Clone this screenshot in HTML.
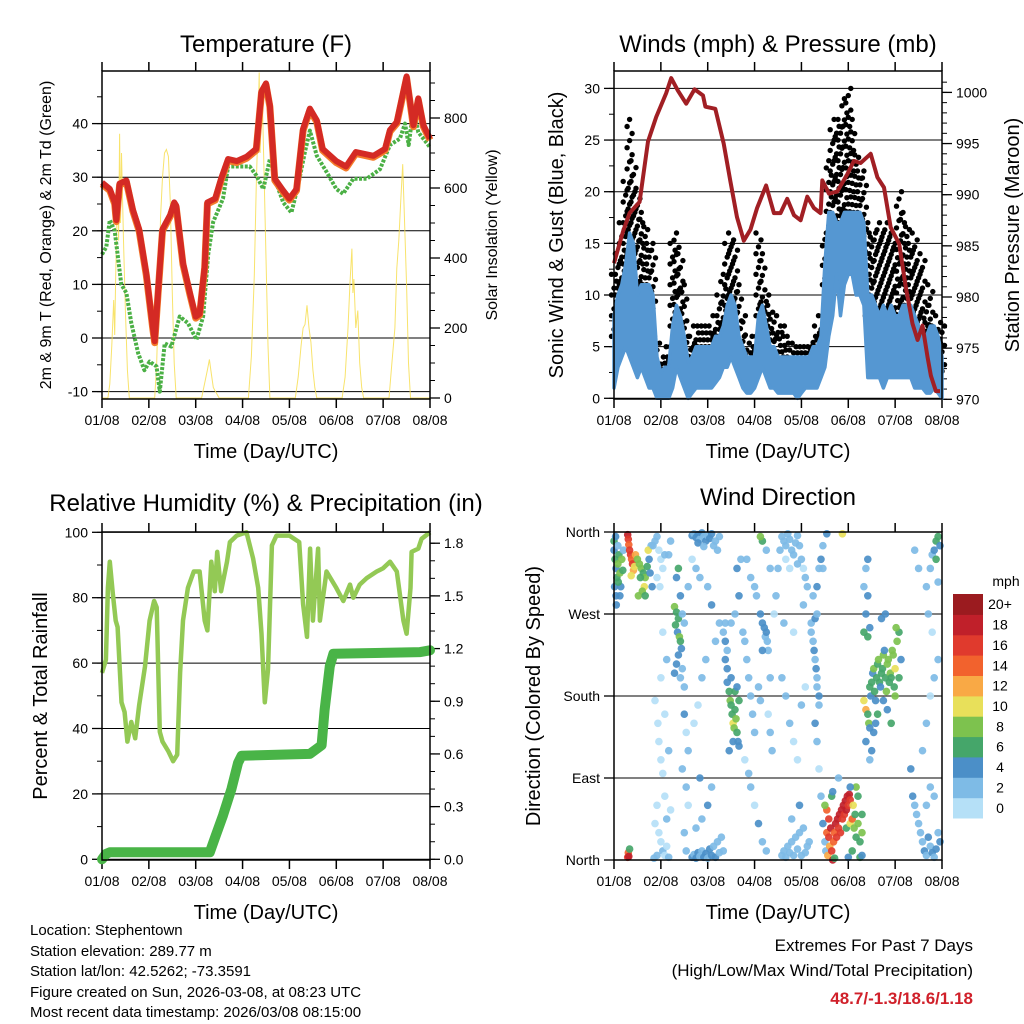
<!DOCTYPE html>
<html><head><meta charset="utf-8"><title>Stephentown weather</title>
<style>
html,body{margin:0;padding:0;background:#fff;}
svg{display:block;font-family:"Liberation Sans",Arial,sans-serif;}
</style></head>
<body>
<svg id="fig" width="1024" height="1024" viewBox="0 0 1024 1024" xmlns="http://www.w3.org/2000/svg"></svg>
<script>
// ---------------- DATA ----------------
const dayLabels = ["01/08","02/08","03/08","04/08","05/08","06/08","07/08","08/08"];
// Temperature (F), red 2m T
const tempHours = [0,4,6.5,7.3,9,12.5,15.8,19,22.7,26,27,28.7,31,35,37,38,41.5,45,48,50,52.6,54,58,61,64.6,69,74,79,81.7,84,86,88.5,92.8,96,99.6,103,106.5,110,113,120,125,130,139,145,147.5,151,156,159.5,162,164.6,168];
const tempValues = [29,27.8,25.3,22,28.8,29.4,24,20.3,12,2,-0.6,8.4,20.3,23,25.3,24.7,14,8.4,4,4.5,13.4,25.3,26,29.7,33.4,33,33.8,35.3,46,47.5,43.4,29.7,27.5,26,27.8,39,42.8,40.6,35.3,33,32,34.7,34,35.3,38.8,40.3,48.8,39.7,44.7,39.7,37.2];
// Dew point (F), green 2m Td
const tdHours = [0,2.2,4,6.5,8.2,9.9,12.5,15,18.5,21.7,24.4,27.9,29.6,32.1,35.5,39.8,44,48.4,51.8,54.4,56.9,62,64.6,70.6,75.7,79.1,82.6,86,88.5,92.8,97,100.4,103.9,106.5,110,115,120,123.5,128.7,135.6,142.4,147.5,152.6,155.2,157.1,159.5,162,168];
const tdValues = [15.6,17,22,20,15,10,8.4,2.8,-2.8,-6,-4.4,-5.3,-10,-1,-1.6,4,2.8,-0.3,4,15.6,21.6,26,32,32,32,30.3,27.8,33.4,29.7,25.3,23.4,28.4,34.7,38.7,34,31,27.8,26.9,29.7,29.7,31.5,36,37.2,40,36,42.8,38.4,35.6];
// Solar insolation (W/m2)
const solarHours = [0,3,4,5,6,6.5,7,8,8.5,9,9.5,10,11,12,13,14,27,28,29,30,31,32,33,34,35,36,37,38,51,52.5,54,55,56,57,58,59,60,75,76.5,78,79,80,80.5,81,82,83,84,85,86,99,100.5,102,103,104,105,106,107,108,109,110,123,124.5,126,127,128,128.5,129,130,131,132,133,134,147,148.5,150,151,152,153,154,155,156,157,158,168];
const solarValues = [0,0,40,150,280,180,350,600,450,755,500,700,450,250,80,0,0,100,300,520,630,700,710,690,560,300,100,0,0,40,80,110,70,30,20,10,0,0,120,350,600,800,930,700,880,650,400,150,0,0,60,150,200,210,265,200,160,80,30,0,0,60,200,330,427,300,340,200,250,100,30,0,0,100,200,370,450,560,668,500,320,100,0,0];
// Winds (mph), every 2 hours
const windHours = [0,2,4,6,8,10,12,14,16,18,20,22,24,26,28,30,32,34,36,38,40,42,44,46,48,50,52,54,56,58,60,62,64,66,68,70,72,74,76,78,80,82,84,86,88,90,92,94,96,98,100,102,104,106,108,110,112,114,116,118,120,122,124,126,128,130,132,134,136,138,140,142,144,146,148,150,152,154,156,158,160,162,164,166,168];
const windLow = [1,3,4,5,4,3,2,3,2,1,1,0,0,0,0,1,3,2,1,0,0.5,1,1,1,1,1,1.5,2,3,3,4,3,2,1,0.5,0.5,1,2,3,2,1,1,0.5,0.5,0.5,0.5,0.5,0,0.5,1,1,1,1,2,3,6,8,12,8,11,12,12,10,10,9,2,2,2,2,1,2,2,2,2,2,2,2,1,1,1,0.5,0.5,1,0.5,0];
const windHigh = [8,10,11,13,16,15,10,11,11,11,10,4,2.5,3,3,7,9,8,6,3.5,4,5,5,5,5,5,6,6,7,9,10,9,6,5,4,4,4,8,9,7,5,5,4,4,4,4,4,4,4,4,4,5,5,6,13,18,18,17,17,18,18,18,18,18,17,10,10,9,8,9,8,9,8,8,9,9,9,8,7,6,6,7,7,6,4];
const gustMax = [12,14,17,21,27,23,20,18,17,15,15,6,4,4,5,15,16,14,11,6,6,7,7,7,7,7,8,10,12,15,16,15,11,8,6,5,6,16,14,10,9,8,7,7,6,6,5,5,5,5,5,6,7,8,16,23,26,27,27,29,30,27,24,22,22,17,16,16,17,16,17,16,15,20,18,17,15,16,13,14,9,11,7,8,7];
// Station pressure (mb)
const presHours = [0,4.6,8,13.1,17.4,21.6,26.7,29.3,32.7,37,41.3,45.6,46.8,51.9,56.2,59.6,63,66.5,69.9,73.3,77.9,81.9,85.3,88.7,92.2,95.6,99,102.4,105.8,106.7,110.1,114.3,119.5,122.9,126.3,131.5,134.9,138.3,141.7,146.1,149.5,152.9,155.5,158,160.6,162.3,164.9,167];
const presValues = [983.3,986.4,988.2,989.3,995.2,997.6,999.9,1001.4,1000.2,998.9,1000.3,999.7,998.6,998.4,995,991.3,987.8,985.5,986.6,988.7,990.9,988.2,988.2,989.6,988,987.5,989.8,988.7,988.2,991.4,990.1,990.3,992,993.3,993.1,994,991.7,990.7,986.8,985.2,980.9,977.4,975.8,977.2,974.1,972.3,970.8,970.8];
// Relative humidity (%)
const rhHours = [0,2,3,4,5.6,7,8,10,11.6,13,15,17,19,22,24.4,26.7,28,29.6,31,34,36.4,38.5,40,41.5,44,47,50,52.6,54,56,57.8,59,61,64,65.5,69,74,77.4,80,81.7,83.4,85,87,89.4,96,101,103,105,106.6,108,110.7,111.6,115,120,123.6,127,128.7,132,135.6,140.7,144,147.5,151,154.4,156,158,158.6,162,163.7,168];
const rhValues = [57,61,83,91,81,73,71,48,45,36,42,37,47,59,73,79,77,39,36,33,30,32,57,73,83,88,88,73,70,91,82,94,82,91,97,99,100,92,83,69,48,58,96,99,99,97,78,68,95,73,95,73,88,83,79,84,80,84,86,88,89,91,88,73,69,83,94,95,98,100];
// Cumulative precipitation (in)
const precipHours = [0,2,4,55.2,57.8,62,66.3,69.7,71.5,106.5,112.5,114,116.7,118.5,163,168];
const precipValues = [0,0.03,0.04,0.04,0.12,0.25,0.4,0.55,0.59,0.6,0.65,0.85,1.1,1.17,1.18,1.19];
// Wind direction scatter: hour, direction (deg), speed (mph)
const dirHours = [0,0.5,1,0.3,1.5,2,2.5,3,3.5,1,0,2,4,4.5,3,1.2,2.2,0.8,4.8,
7,7.3,7.6,8,8.5,9,9.5,10,10.5,8.8,11,12,13,14,15,16,17,18,19,13.5,15.5,14.5,12.5,16,17.5,19.5,18.5,7,7.3,7.6,8,
20,21,22,23,24,25,26,22,23.5,25,24,21,22.5,23,24,25,26,22,21,23,24,25,26,28,22,27,29,28,27,26,28,29,20.5,27,
31,32,33,31.5,32.5,33.5,34,34.5,33,32,31,34,35,36,35,36,33,32,34,36,37,38,35,37,38,36,37,38,
40,41,42,43,44,45,46,47,48,49,50,51,52,53,54,43,46,40,42,44,48,40,41,42,43,44,45,46,47,48,49,50,51,52,53,54,55,56,42,45,48,50,44,41,43,45,47,52,54,50,
56,57,57,58,58,59,59.5,60,60.5,61,61.5,62,62.5,63,63.5,64,60,62,61,59,64,63,58,57,60,62,64,63,65,
66,67,68,69,70,71,72,67,69,70,72,74,76,78,75,76,77,77.5,78,78.5,79,76,74,75,79,80,81,80,82,83,84,85,80,78,76,75,72,70,73,68,
86,87,88,89,90,91,92,93,94,95,96,97,98,99,90,94,88,86,87,88,89,90,91,92,93,94,95,96,97,98,99,100,91,95,86,88,90,92,94,96,98,87,92,97,
101,102,102.5,103,103.5,104,104,105,105,101,103,104,102,104,105,106,107,107,103,104,105,106,107,
108,108.5,109,109.5,110,110.5,111,111.5,112,112.5,113,113.5,114,114.5,115,115.5,116,116.5,117,117.5,118,118.5,119,119.5,120,120.5,121,110,109,108,111.5,112,113,119,121,122,122.5,123,123.5,124,125,126,127,127,125,124,122,120,126,127,115,121,109,117,
128,129,130,130.5,131,131.5,132,132.5,133,133.5,134,134.5,135,135.5,136,136.5,137,137.5,138,138.5,139,139.5,140,140.5,141,141.5,142,142.5,143,143.5,144,144,145,146,144.5,130,131,129,130,128,129,130,131,132,129,133,135,137,139,134,131,128,138,140,142,146,147,
152,153,154,155,156,157,158,159,160,161,162,163,164,165,166,167,160,162,164,158,160,162,164,166,163,161,160,162,163,164,165,166,167,165,166,156,154];
const dirDegrees = [340,330,320,300,310,325,335,315,300,290,350,345,330,318,290,280,305,355,340,
357,352,346,340,335,330,325,318,322,312,335,330,325,320,315,310,322,330,345,310,300,295,290,290,340,300,315,3,8,4,12,
345,350,355,340,330,320,335,310,300,250,200,175,150,130,110,95,70,60,40,30,20,10,5,3,5,45,55,120,220,160,335,350,2,15,
278,272,265,258,250,245,240,232,225,215,205,200,270,260,210,190,320,310,290,160,140,120,100,80,60,30,10,300,
356,358,354,357,352,359,355,350,356,353,358,345,350,340,355,348,344,330,320,310,300,3,6,2,8,4,10,3,7,2,12,5,15,3,20,8,25,10,35,45,60,80,90,150,170,200,220,240,260,280,
250,240,220,210,195,185,175,170,160,150,145,165,155,140,130,125,200,185,130,120,175,190,230,260,260,270,290,320,330,
250,240,220,200,180,160,140,110,95,80,60,40,20,10,270,260,255,245,250,240,230,230,190,175,160,140,120,200,270,290,320,340,320,340,350,355,300,310,290,330,
355,350,345,358,352,340,335,348,356,345,330,320,310,300,320,325,330,5,10,3,15,8,20,5,25,12,30,5,35,8,15,20,45,60,200,180,150,130,110,170,190,260,250,280,
250,240,230,220,210,200,190,180,170,260,265,270,290,300,320,330,320,345,150,130,100,70,40,
20,10,30,5,25,15,35,10,0,20,30,40,25,45,35,50,30,55,45,60,50,65,55,70,60,72,66,45,55,60,70,75,2,35,40,45,60,35,50,25,40,20,30,50,70,80,10,3,3,5,90,80,358,358,
175,165,160,150,190,180,195,205,210,185,175,200,215,220,195,190,205,210,225,230,200,185,215,220,195,205,200,230,225,190,180,210,240,250,255,245,255,270,290,300,320,330,110,120,130,140,160,265,270,150,145,250,175,165,150,200,220,
100,70,60,50,40,30,20,10,5,25,15,8,3,12,30,20,60,80,70,120,150,180,200,220,250,270,300,320,335,340,350,355,345,330,305,320,340];
const dirSpeeds = [5,6,4,4,6,8,7,8,4,4,6,3,8,6,5,4,7,4,3,
18,16,14,16,17,14,16,12,10,11,12,8,9,8,7,9,6,4,3,6,10,8,9,6,10,4,4,16,14,18,7,
2,3,2,1,0,1,2,0,1,0,1,0,1,1,0,1,1,0,1,0,1,2,0,2,2,3,1,3,2,1,3,2,3,1,
8,6,7,6,5,8,6,4,5,4,4,3,3,2,2,3,6,4,4,4,1,2,3,2,1,2,3,3,
4,3,4,5,3,4,3,4,3,4,4,3,2,3,2,4,3,1,2,3,2,4,3,4,4,3,3,4,4,3,4,4,3,4,2,3,3,2,2,3,4,3,4,1,1,3,2,3,2,4,
3,4,5,4,4,6,8,6,7,10,8,6,8,7,4,5,4,6,4,4,6,5,3,3,2,3,4,4,3,
3,2,3,3,2,3,2,1,2,3,1,4,3,3,4,4,4,3,4,3,2,4,3,2,1,3,2,2,1,2,3,2,2,3,6,8,2,3,3,2,
2,3,2,3,2,3,2,3,2,2,3,1,3,2,1,3,1,3,2,3,2,3,3,2,2,3,2,3,2,3,2,3,2,4,2,3,3,1,1,2,1,2,1,3,2,2,
4,3,4,3,3,4,3,3,4,3,3,4,3,4,3,3,4,3,1,2,4,2,3,
14,12,16,13,18,17,18,15,14,18,17,18,16,18,17,18,16,18,17,19,18,18,16,18,17,16,14,8,6,4,7,6,10,14,10,8,6,7,8,6,8,6,6,8,6,4,6,4,2,4,4,10,10,13,
6,8,6,4,6,5,8,6,4,7,6,8,6,5,7,6,8,4,6,8,9,8,6,8,7,9,8,6,8,10,8,6,8,6,4,4,4,3,3,4,3,4,4,4,6,4,4,4,4,6,5,4,6,6,5,4,4,
3,2,3,2,3,4,3,4,3,4,3,4,3,4,3,2,2,3,2,1,2,3,1,3,2,3,3,4,6,6,4,7,3,2,2,3,2];
const speedBins = ["0","2","4","6","8","10","12","14","16","18","20+"];
const speedColors = ["#b5e0f7","#7ebbe6","#4b8fc8","#45a66a","#7dc24e","#e8e05a","#f9a945","#f2622d","#e03a2d","#c0202a","#9b1b1f"];

// ---------------- HELPERS ----------------
const NS="http://www.w3.org/2000/svg";
const svg=document.getElementById('fig');
function mk(tag,attrs,parent){const e=document.createElementNS(NS,tag);for(const k in attrs)e.setAttribute(k,attrs[k]);(parent||svg).appendChild(e);return e;}
function txt(s,x,y,size,anchor,parent,extra){const e=mk('text',Object.assign({x:x,y:y,'font-size':size,'text-anchor':anchor||'middle',fill:'#000'},extra||{}),parent);e.textContent=s;return e;}
function pts(xs,ys,fx,fy){return xs.map((h,i)=>fx(h).toFixed(1)+','+fy(ys[i]).toFixed(1)).join(' ');}

function frame(g,L,T,R,B){
  const xs=h=>L+h*(R-L)/168;
  for(let i=0;i<8;i++){
    const x=xs(i*24);
    const t1=mk('line',{x1:x,y1:B,x2:x,y2:B+9,stroke:'#000','stroke-width':1.5},g);
    
    
    const t2=mk('line',{x1:x,y1:T,x2:x,y2:T-9,stroke:'#000','stroke-width':1.5},g);
    
    
    const lb=txt(dayLabels[i],x,B+26,14,'middle',g);
    
    
  }
  return xs;
}
function border(g,L,T,R,B){
  const r=mk('rect',{x:L,y:T,width:R-L,height:B-T,fill:'none',stroke:'#000','stroke-width':1.5},g);
  
  
}
function yTicks(g,side,x,vals,fy,labels,minorVals,grid,L,R){
  const dir=side==='left'?-1:1;
  minorVals.forEach(v=>{const y=fy(v);const t=mk('line',{x1:x,y1:y,x2:x+dir*5,y2:y,stroke:'#000','stroke-width':1},g);
    
    });
  vals.forEach((v,i)=>{const y=fy(v);
    const t=mk('line',{x1:x,y1:y,x2:x+dir*10,y2:y,stroke:'#000','stroke-width':1.3},g);
    
    
    if(grid){const gl=mk('line',{x1:L,y1:y,x2:R,y2:y,stroke:'#000','stroke-width':1},g);
      
      }
    const lb=txt(labels[i],x+dir*14,y+5,14,side==='left'?'end':'start',g);
    
    });
}
function range(a,b,s){const r=[];for(let v=a;v<=b+1e-9;v+=s)r.push(+v.toFixed(3));return r;}

// ---------------- PANEL 1: TEMPERATURE ----------------
(function(){
  const L=102,T=71,R=430,B=399;
  const g=mk('g',{});
  
  
  const xs=frame(g,L,T,R,B);
  const fy=v=>338-v*5.36, fs=v=>398-v*0.35;
  yTicks(g,'left',L,range(-10,40,10),fy,range(-10,40,10).map(String),range(-10,45,5),true,L,R);
  yTicks(g,'right',R,range(0,800,200),fs,range(0,800,200).map(String),range(0,900,50),false);
  const sol=mk('polyline',{points:pts(solarHours,solarValues,xs,fs),fill:'none',stroke:'#f7de52','stroke-width':1,opacity:0.85},g);
  
  
  const td=mk('polyline',{points:pts(tdHours,tdValues,xs,fy),fill:'none',stroke:'#4bb045','stroke-width':4,'stroke-dasharray':'3 1.5','stroke-linejoin':'round'},g);
  
  
  const t9=mk('polyline',{points:pts(tempHours,tempValues,xs,v=>fy(v)+1.5),fill:'none',stroke:'#f47b2a','stroke-width':7,'stroke-linejoin':'round'},g);
  
  
  const t2=mk('polyline',{points:pts(tempHours,tempValues,xs,fy),fill:'none',stroke:'#d42a24','stroke-width':6,'stroke-linejoin':'round'},g);
  
  
  border(g,L,T,R,B);
  const ti=txt('Temperature (F)',266,52,24,'middle',g);
  
  
  const xl=txt('Time (Day/UTC)',266,458,20,'middle',g);
  
  
  const yl=txt('2m & 9m T (Red, Orange) & 2m Td (Green)',0,0,16,'middle',g,{transform:'translate(51,235) rotate(-90)'});
  
  
  const yr=txt('Solar Insolation (Yellow)',0,0,16,'middle',g,{transform:'translate(497,235) rotate(-90)'});
  
  
})();

// ---------------- PANEL 2: WINDS ----------------
(function(){
  const L=614,T=71,R=942,B=399;
  const g=mk('g',{});
  
  
  const xs=frame(g,L,T,R,B);
  const fy=v=>398.3-v*10.33, fp=p=>399.3-(p-970)*10.23;
  yTicks(g,'left',L,range(0,30,5),fy,range(0,30,5).map(String),range(0,31,2.5),true,L,R);
  yTicks(g,'right',R,range(970,1000,5),fp,range(970,1000,5).map(String),range(970,1001,1),false);
  // gust dots
  windHours.forEach((h,i)=>{
    const lo=windHigh[i]-2, hi=gustMax[i];
    const n=Math.max(1,Math.ceil((hi-lo)/0.7));
    for(let k=0;k<=n;k++){
      const v=lo+(hi-lo)*k/n;
      const c=mk('circle',{cx:(xs(h)+((k%3)-1)*2.5).toFixed(1),cy:fy(v).toFixed(1),r:2.7,fill:'#000'},g);
      
      
    }
  });
  const band=windHours.map((h,i)=>xs(h).toFixed(1)+','+fy(windHigh[i]).toFixed(1)).join(' ')+' '+windHours.slice().reverse().map((h,j)=>{const i=windHours.length-1-j;return xs(h).toFixed(1)+','+fy(windLow[i]).toFixed(1);}).join(' ');
  const w=mk('polygon',{points:band,fill:'#5597d2',stroke:'#5597d2','stroke-width':3.5,'stroke-linejoin':'round'},g);
  
  
  const p=mk('polyline',{points:pts(presHours,presValues,xs,fp),fill:'none',stroke:'#a11f24','stroke-width':4,'stroke-linejoin':'round'},g);
  
  
  border(g,L,T,R,B);
  const ti=txt('Winds (mph) & Pressure (mb)',778,52,24,'middle',g);
  
  
  const xl=txt('Time (Day/UTC)',778,458,20,'middle',g);
  
  
  const yl=txt('Sonic Wind & Gust (Blue, Black)',0,0,20,'middle',g,{transform:'translate(563,235) rotate(-90)'});
  
  
  const yr=txt('Station Pressure (Maroon)',0,0,20,'middle',g,{transform:'translate(1019,235) rotate(-90)'});
  
  
})();

// ---------------- PANEL 3: RH & PRECIP ----------------
(function(){
  const L=102,T=532,R=430,B=860;
  const g=mk('g',{});
  
  
  const xs=frame(g,L,T,R,B);
  const fy=v=>859.3-v*3.27, fp=v=>859.3-v*175.6;
  yTicks(g,'left',L,range(0,100,20),fy,range(0,100,20).map(String),range(0,100,10),true,L,R);
  yTicks(g,'right',R,range(0,1.8,0.3),fp,range(0,1.8,0.3).map(v=>v.toFixed(1)),range(0,1.8,0.1),false);
  const rh=mk('polyline',{points:pts(rhHours,rhValues,xs,fy),fill:'none',stroke:'#93c955','stroke-width':4.5,'stroke-linejoin':'round'},g);
  
  
  const pr=mk('polyline',{points:pts(precipHours,precipValues,xs,fp),fill:'none',stroke:'#49b447','stroke-width':10,'stroke-linejoin':'round','stroke-linecap':'round'},g);
  
  
  border(g,L,T,R,B);
  const ti=txt('Relative Humidity (%) & Precipitation (in)',266,511,24,'middle',g);
  
  
  const xl=txt('Time (Day/UTC)',266,919,20,'middle',g);
  
  
  const yl=txt('Percent & Total Rainfall',0,0,20,'middle',g,{transform:'translate(47,696) rotate(-90)'});
  
  
})();

// ---------------- PANEL 4: WIND DIRECTION ----------------
(function(){
  const L=614,T=532,R=942,B=860;
  const g=mk('g',{});
  
  
  const xs=frame(g,L,T,R,B);
  const fy=d=>860-d*328/360;
  yTicks(g,'left',L,[0,90,180,270,360],fy,['North','East','South','West','North'],[],true,L,R);
  const binOf=s=>Math.min(10,Math.max(0,Math.floor(s/2)));
  dirHours.forEach((h,i)=>{
    const c=mk('circle',{cx:xs(h).toFixed(1),cy:fy(dirDegrees[i]).toFixed(1),r:3.8,fill:speedColors[binOf(dirSpeeds[i])],opacity:0.92},g);
    
    
  });
  border(g,L,T,R,B);
  const ti=txt('Wind Direction',778,505,24,'middle',g);
  
  
  const xl=txt('Time (Day/UTC)',778,919,20,'middle',g);
  
  
  const yl=txt('Direction (Colored By Speed)',0,0,20,'middle',g,{transform:'translate(540,696) rotate(-90)'});
  
  
  // legend
  const lg=mk('g',{},g);
  
  
  const lt=txt('mph',1006,586,14,'middle',lg);
  
  
  const bh=224/11;
  speedBins.forEach((lab,i)=>{
    const j=10-i; const y=594+j*bh;
    const r=mk('rect',{x:953,y:y.toFixed(1),width:30,height:(bh+0.5).toFixed(1),fill:speedColors[i]},lg);
    
    
    const t=txt(lab,1000,y+bh/2+5,14,'middle',lg);
    
    
  });
})();

// ---------------- FOOTER TEXT ----------------
(function(){
  const info=["Location: Stephentown","Station elevation: 289.77 m","Station lat/lon: 42.5262; -73.3591","Figure created on Sun, 2026-03-08, at 08:23 UTC","Most recent data timestamp: 2026/03/08 08:15:00"];
  const ys=[935,956,976,997,1017];
  const g=mk('g',{});
  
  
  info.forEach((s,i)=>{const t=txt(s,30,ys[i],15,'start',g);
    
    });
  const e=mk('g',{});
  
  
  const a=txt('Extremes For Past 7 Days',973,951,17,'end',e);
  
  
  const b=txt('(High/Low/Max Wind/Total Precipitation)',973,976,17,'end',e);
  
  
  const c=txt('48.7/-1.3/18.6/1.18',973,1004,17,'end',e,{fill:'#d0202a','font-weight':'bold'});
  
  
})();
</script>
</body></html>
